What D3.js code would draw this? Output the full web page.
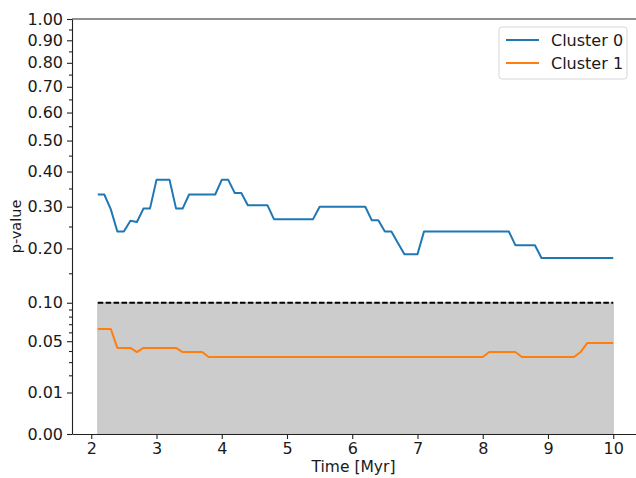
<!DOCTYPE html>
<html>
<head>
<meta charset="utf-8">
<script src="https://cdn.jsdelivr.net/npm/d3@7"></script>
<style>
  body { margin: 0; background: #fff; }
  svg { display: block; font-family: "DejaVu Sans", sans-serif; }
</style>
</head>
<body>
<svg id="chart"></svg>
<script>
// time samples (Myr)
var times = [2.1, 2.2, 2.3, 2.4, 2.5, 2.6, 2.7, 2.8, 2.9, 3.0,
             3.1, 3.2, 3.3, 3.4, 3.5, 3.6, 3.7, 3.8, 3.9, 4.0,
             4.1, 4.2, 4.3, 4.4, 4.5, 4.6, 4.7, 4.8, 4.9, 5.0,
             5.1, 5.2, 5.3, 5.4, 5.5, 5.6, 5.7, 5.8, 5.9, 6.0,
             6.1, 6.2, 6.3, 6.4, 6.5, 6.6, 6.7, 6.8, 6.9, 7.0,
             7.1, 7.2, 7.3, 7.4, 7.5, 7.6, 7.7, 7.8, 7.9, 8.0,
             8.1, 8.2, 8.3, 8.4, 8.5, 8.6, 8.7, 8.8, 8.9, 9.0,
             9.1, 9.2, 9.3, 9.4, 9.5, 9.6, 9.7, 9.8, 9.9, 10.0];

var cluster0 = [0.333, 0.333, 0.293, 0.238, 0.238, 0.264, 0.261, 0.295, 0.295, 0.375,
                0.375, 0.375, 0.295, 0.295, 0.333, 0.333, 0.333, 0.333, 0.333, 0.375,
                0.375, 0.337, 0.337, 0.304, 0.304, 0.304, 0.304, 0.268, 0.268, 0.268,
                0.268, 0.268, 0.268, 0.268, 0.300, 0.300, 0.300, 0.300, 0.300, 0.300,
                0.300, 0.300, 0.265, 0.265, 0.238, 0.238, 0.212, 0.1875, 0.1875, 0.1875,
                0.238, 0.238, 0.238, 0.238, 0.238, 0.238, 0.238, 0.238, 0.238, 0.238,
                0.238, 0.238, 0.238, 0.238, 0.207, 0.207, 0.207, 0.207, 0.180, 0.180,
                0.180, 0.180, 0.180, 0.180, 0.180, 0.180, 0.180, 0.180, 0.180, 0.180];

var cluster1 = [0.064, 0.064, 0.064, 0.043, 0.043, 0.043, 0.039, 0.043, 0.043, 0.043,
                0.043, 0.043, 0.043, 0.039, 0.039, 0.039, 0.039, 0.0344, 0.0344, 0.0344,
                0.0344, 0.0344, 0.0344, 0.0344, 0.0344, 0.0344, 0.0344, 0.0344, 0.0344, 0.0344,
                0.0344, 0.0344, 0.0344, 0.0344, 0.0344, 0.0344, 0.0344, 0.0344, 0.0344, 0.0344,
                0.0344, 0.0344, 0.0344, 0.0344, 0.0344, 0.0344, 0.0344, 0.0344, 0.0344, 0.0344,
                0.0344, 0.0344, 0.0344, 0.0344, 0.0344, 0.0344, 0.0344, 0.0344, 0.0344, 0.0344,
                0.039, 0.039, 0.039, 0.039, 0.039, 0.0344, 0.0344, 0.0344, 0.0344, 0.0344,
                0.0344, 0.0344, 0.0344, 0.0344, 0.039, 0.048, 0.048, 0.048, 0.048, 0.048];

var seriesNames = ["Cluster 0", "Cluster 1"];
var threshold = 0.1;

var xTicks = [2, 3, 4, 5, 6, 7, 8, 9, 10];
var yTicks = [0.00, 0.01, 0.05, 0.10, 0.20, 0.30, 0.40, 0.50, 0.60, 0.70, 0.80, 0.90, 1.00];
var yMinorTicks = [0.02, 0.03, 0.04, 0.06, 0.07, 0.08, 0.09, 0.15, 0.25, 0.35, 0.45,
                   0.55, 0.65, 0.75, 0.85, 0.95];

var width = 636, height = 478;
var mLeft = 72, mTop = 19, mRight = 639, mBottom = 434;
var fontSize = 16;
var colors = ["#1f77b4", "#ff7f0e"];

var svg = d3.select("#chart")
    .attr("width", width)
    .attr("height", height);

var x = d3.scaleLinear().domain([1.705, 10.395]).range([mLeft, mRight]);
var y = d3.scaleSqrt().domain([0, 1]).range([mBottom, mTop]);

// shaded region below the threshold
var band = times.map(function(t) { return { t: t }; });
svg.append("path")
    .datum(band)
    .attr("d", d3.area()
        .x(function(d) { return x(d.t); })
        .y0(y(0))
        .y1(y(threshold)))
    .attr("fill", "#cccccc")
    .attr("stroke", "#c4c4c4")
    .attr("stroke-width", 1);

svg.append("line")
    .attr("x1", x(times[0]))
    .attr("x2", x(times[times.length - 1]))
    .attr("y1", y(threshold))
    .attr("y2", y(threshold))
    .attr("stroke", "#000")
    .attr("stroke-width", 2)
    .attr("stroke-dasharray", "5.5,2.4");

var line = d3.line()
    .x(function(d, i) { return x(times[i]); })
    .y(function(d) { return y(d); });

[cluster0, cluster1].forEach(function(vals, k) {
    svg.append("path")
        .datum(vals)
        .attr("d", line)
        .attr("fill", "none")
        .attr("stroke", colors[k])
        .attr("stroke-width", 2)
        .attr("stroke-linejoin", "round");
});

// axes
svg.append("g")
    .attr("transform", "translate(0," + mBottom + ")")
    .call(d3.axisBottom(x).tickValues(xTicks).tickFormat(d3.format("d"))
        .tickSize(5).tickPadding(4).tickSizeOuter(0));

svg.append("g")
    .attr("transform", "translate(" + mLeft + ",0)")
    .call(d3.axisLeft(y).tickValues(yTicks).tickFormat(d3.format(".2f"))
        .tickSize(5).tickPadding(4).tickSizeOuter(0));

svg.append("g")
    .attr("transform", "translate(" + mLeft + ",0)")
    .call(d3.axisLeft(y).tickValues(yMinorTicks).tickFormat("")
        .tickSize(3).tickSizeOuter(0))
    .select(".domain").remove();

svg.selectAll(".tick text")
    .style("font-size", fontSize + "px")
    .style("font-family", "'DejaVu Sans', sans-serif")
    .attr("fill", "#1a1a1a");
svg.selectAll(".domain, .tick line")
    .attr("stroke", "#222")
    .attr("stroke-width", 1.1);

// top spine
svg.append("line")
    .attr("x1", mLeft).attr("x2", mRight)
    .attr("y1", mTop).attr("y2", mTop)
    .attr("stroke", "#222")
    .attr("stroke-width", 1.1);

svg.append("text")
    .attr("x", (mLeft + mRight) / 2 - 2)
    .attr("y", 472)
    .attr("text-anchor", "middle")
    .style("font-size", "15.5px")
    .attr("fill", "#1a1a1a")
    .text("Time [Myr]");

svg.append("text")
    .attr("transform", "translate(21," + ((mTop + mBottom) / 2) + ") rotate(-90)")
    .attr("text-anchor", "middle")
    .style("font-size", "14.5px")
    .attr("fill", "#1a1a1a")
    .text("p-value");

// legend
var legend = svg.append("g").attr("transform", "translate(499,27)");
legend.append("rect")
    .attr("width", 128)
    .attr("height", 52)
    .attr("rx", 3)
    .attr("fill", "#fff")
    .attr("fill-opacity", 0.8)
    .attr("stroke", "#d6d6d6");

seriesNames.forEach(function(name, k) {
    var ly = 13 + k * 23;
    legend.append("line")
        .attr("x1", 7).attr("x2", 40)
        .attr("y1", ly).attr("y2", ly)
        .attr("stroke", colors[k])
        .attr("stroke-width", 2);
    legend.append("text")
        .attr("x", 52)
        .attr("y", ly + 5.5)
        .style("font-size", fontSize + "px")
        .attr("fill", "#1a1a1a")
        .text(name);
});
</script>
</body>
</html>
